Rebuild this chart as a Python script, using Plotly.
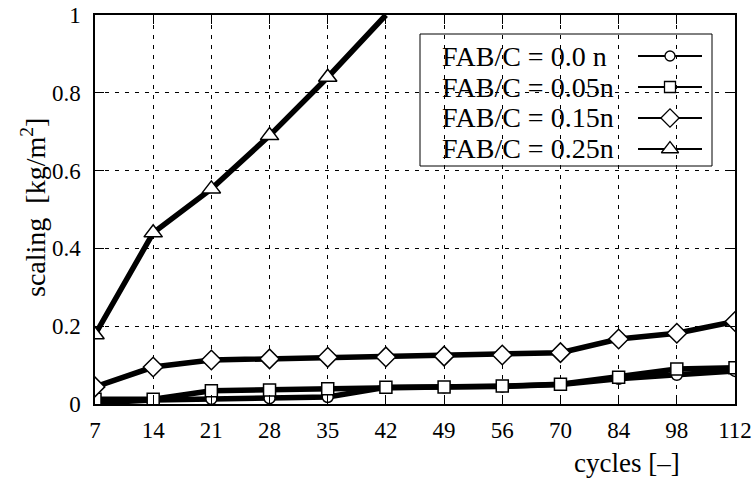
import plotly.graph_objects as go

cycles = ["7", "14", "21", "28", "35", "42", "49", "56", "70", "84", "98", "112"]
fab_000 = [0.003, 0.010, 0.013, 0.015, 0.018, 0.043, 0.043, 0.045, 0.050, 0.065, 0.075, 0.085]
fab_005 = [0.012, 0.012, 0.034, 0.036, 0.039, 0.043, 0.044, 0.046, 0.051, 0.069, 0.090, 0.093]
fab_015 = [0.044, 0.095, 0.113, 0.116, 0.120, 0.121, 0.123, 0.126, 0.132, 0.167, 0.182, 0.212]
fab_025 = [0.178, 0.440, 0.553, 0.690, 0.840, 1.000]
labels = ["FAB/C = 0.0 n", "FAB/C = 0.05n", "FAB/C = 0.15n", "FAB/C = 0.25n"]
yticks = [0, 0.2, 0.4, 0.6, 0.8, 1]

FONT = "Liberation Serif"
series = [
    (fab_000, "circle", 11),
    (fab_005, "square", 12),
    (fab_015, "diamond", 15),
    (fab_025, "triangle-up", 16),
]

fig = go.Figure()
for (vals, sym, sz), name in zip(series, labels):
    sizes = [sz if v < 1 else 0 for v in vals]
    fig.add_trace(go.Scatter(
        x=cycles[:len(vals)], y=vals, mode="lines+markers", name=name,
        line=dict(color="black", width=5.5),
        marker=dict(symbol=sym, size=sizes, color="white", opacity=1,
                    line=dict(color="black", width=1.5)),
        showlegend=False, cliponaxis=True,
    ))

# plot area in pixels
L, R, T, B = 95, 735, 15, 404
def px(x):
    return (x - L) / (R - L)
def py(y):
    return (B - y) / (B - T)

# custom legend (text left, sample right), drawn on a pixel-like overlay axis
rows_y = [56, 87, 118, 149]
for (vals, sym, sz), name, ry in zip(series, labels, rows_y):
    fig.add_trace(go.Scatter(
        x=[638, 702], y=[ry, ry], mode="lines", xaxis="x2", yaxis="y2",
        line=dict(color="black", width=2), showlegend=False, hoverinfo="skip"))
    fig.add_trace(go.Scatter(
        x=[670], y=[ry], mode="markers", xaxis="x2", yaxis="y2",
        marker=dict(symbol=sym, size=sz - 1, color="white", opacity=1,
                    line=dict(color="black", width=1.3)),
        showlegend=False, hoverinfo="skip"))
    fig.add_annotation(x=px(440), y=py(ry), xref="paper", yref="paper", text=name,
                       showarrow=False, xanchor="left", yanchor="middle",
                       font=dict(family=FONT, size=28, color="black"))

fig.add_shape(type="rect", xref="paper", yref="paper", x0=px(420), x1=px(712),
              y0=py(34), y1=py(166),
              line=dict(color="black", width=1), fillcolor="white", layer="below")

grid = dict(showgrid=True, gridcolor="black", gridwidth=1, griddash="4px,6px")
fig.update_layout(
    template="none",
    width=755, height=478,
    margin=dict(l=L, r=755 - R, t=T, b=478 - B, pad=0),
    plot_bgcolor="white", paper_bgcolor="white",
    font=dict(family=FONT, size=23, color="black"),
    xaxis=dict(type="category", categoryorder="array", categoryarray=cycles,
               range=[0, len(cycles) - 1], showline=True, linecolor="black",
               linewidth=1.5, mirror="ticks", ticks="inside", ticklen=9,
               tickcolor="black", tickfont=dict(size=23), zeroline=False,
               ticklabelstandoff=5, automargin=False, **grid),
    yaxis=dict(range=[0, 1], tickvals=yticks, showline=True, linecolor="black",
               linewidth=1.5, mirror="ticks", ticks="inside", ticklen=9,
               tickcolor="black", tickfont=dict(size=23), zeroline=False,
               ticklabelstandoff=8, automargin=False, **grid),
    xaxis2=dict(range=[L, R], overlaying="x", visible=False, fixedrange=True,
                automargin=False),
    yaxis2=dict(range=[B, T], overlaying="y", visible=False, fixedrange=True,
                automargin=False),
    showlegend=False,
)
fig.add_annotation(x=px(627), y=py(463), xref="paper", yref="paper",
                   text="cycles [\u2013]", showarrow=False,
                   xanchor="center", yanchor="middle",
                   font=dict(family=FONT, size=27))
fig.add_annotation(x=px(33), y=py(208), xref="paper", yref="paper",
                   text="scaling  [kg/m<sup>2</sup>]", textangle=-90,
                   showarrow=False, xanchor="center", yanchor="middle",
                   font=dict(family=FONT, size=28))
fig.write_html("out.html", config={"displayModeBar": False},
               post_script="document.body.style.margin='0';document.body.style.overflow='hidden';")
